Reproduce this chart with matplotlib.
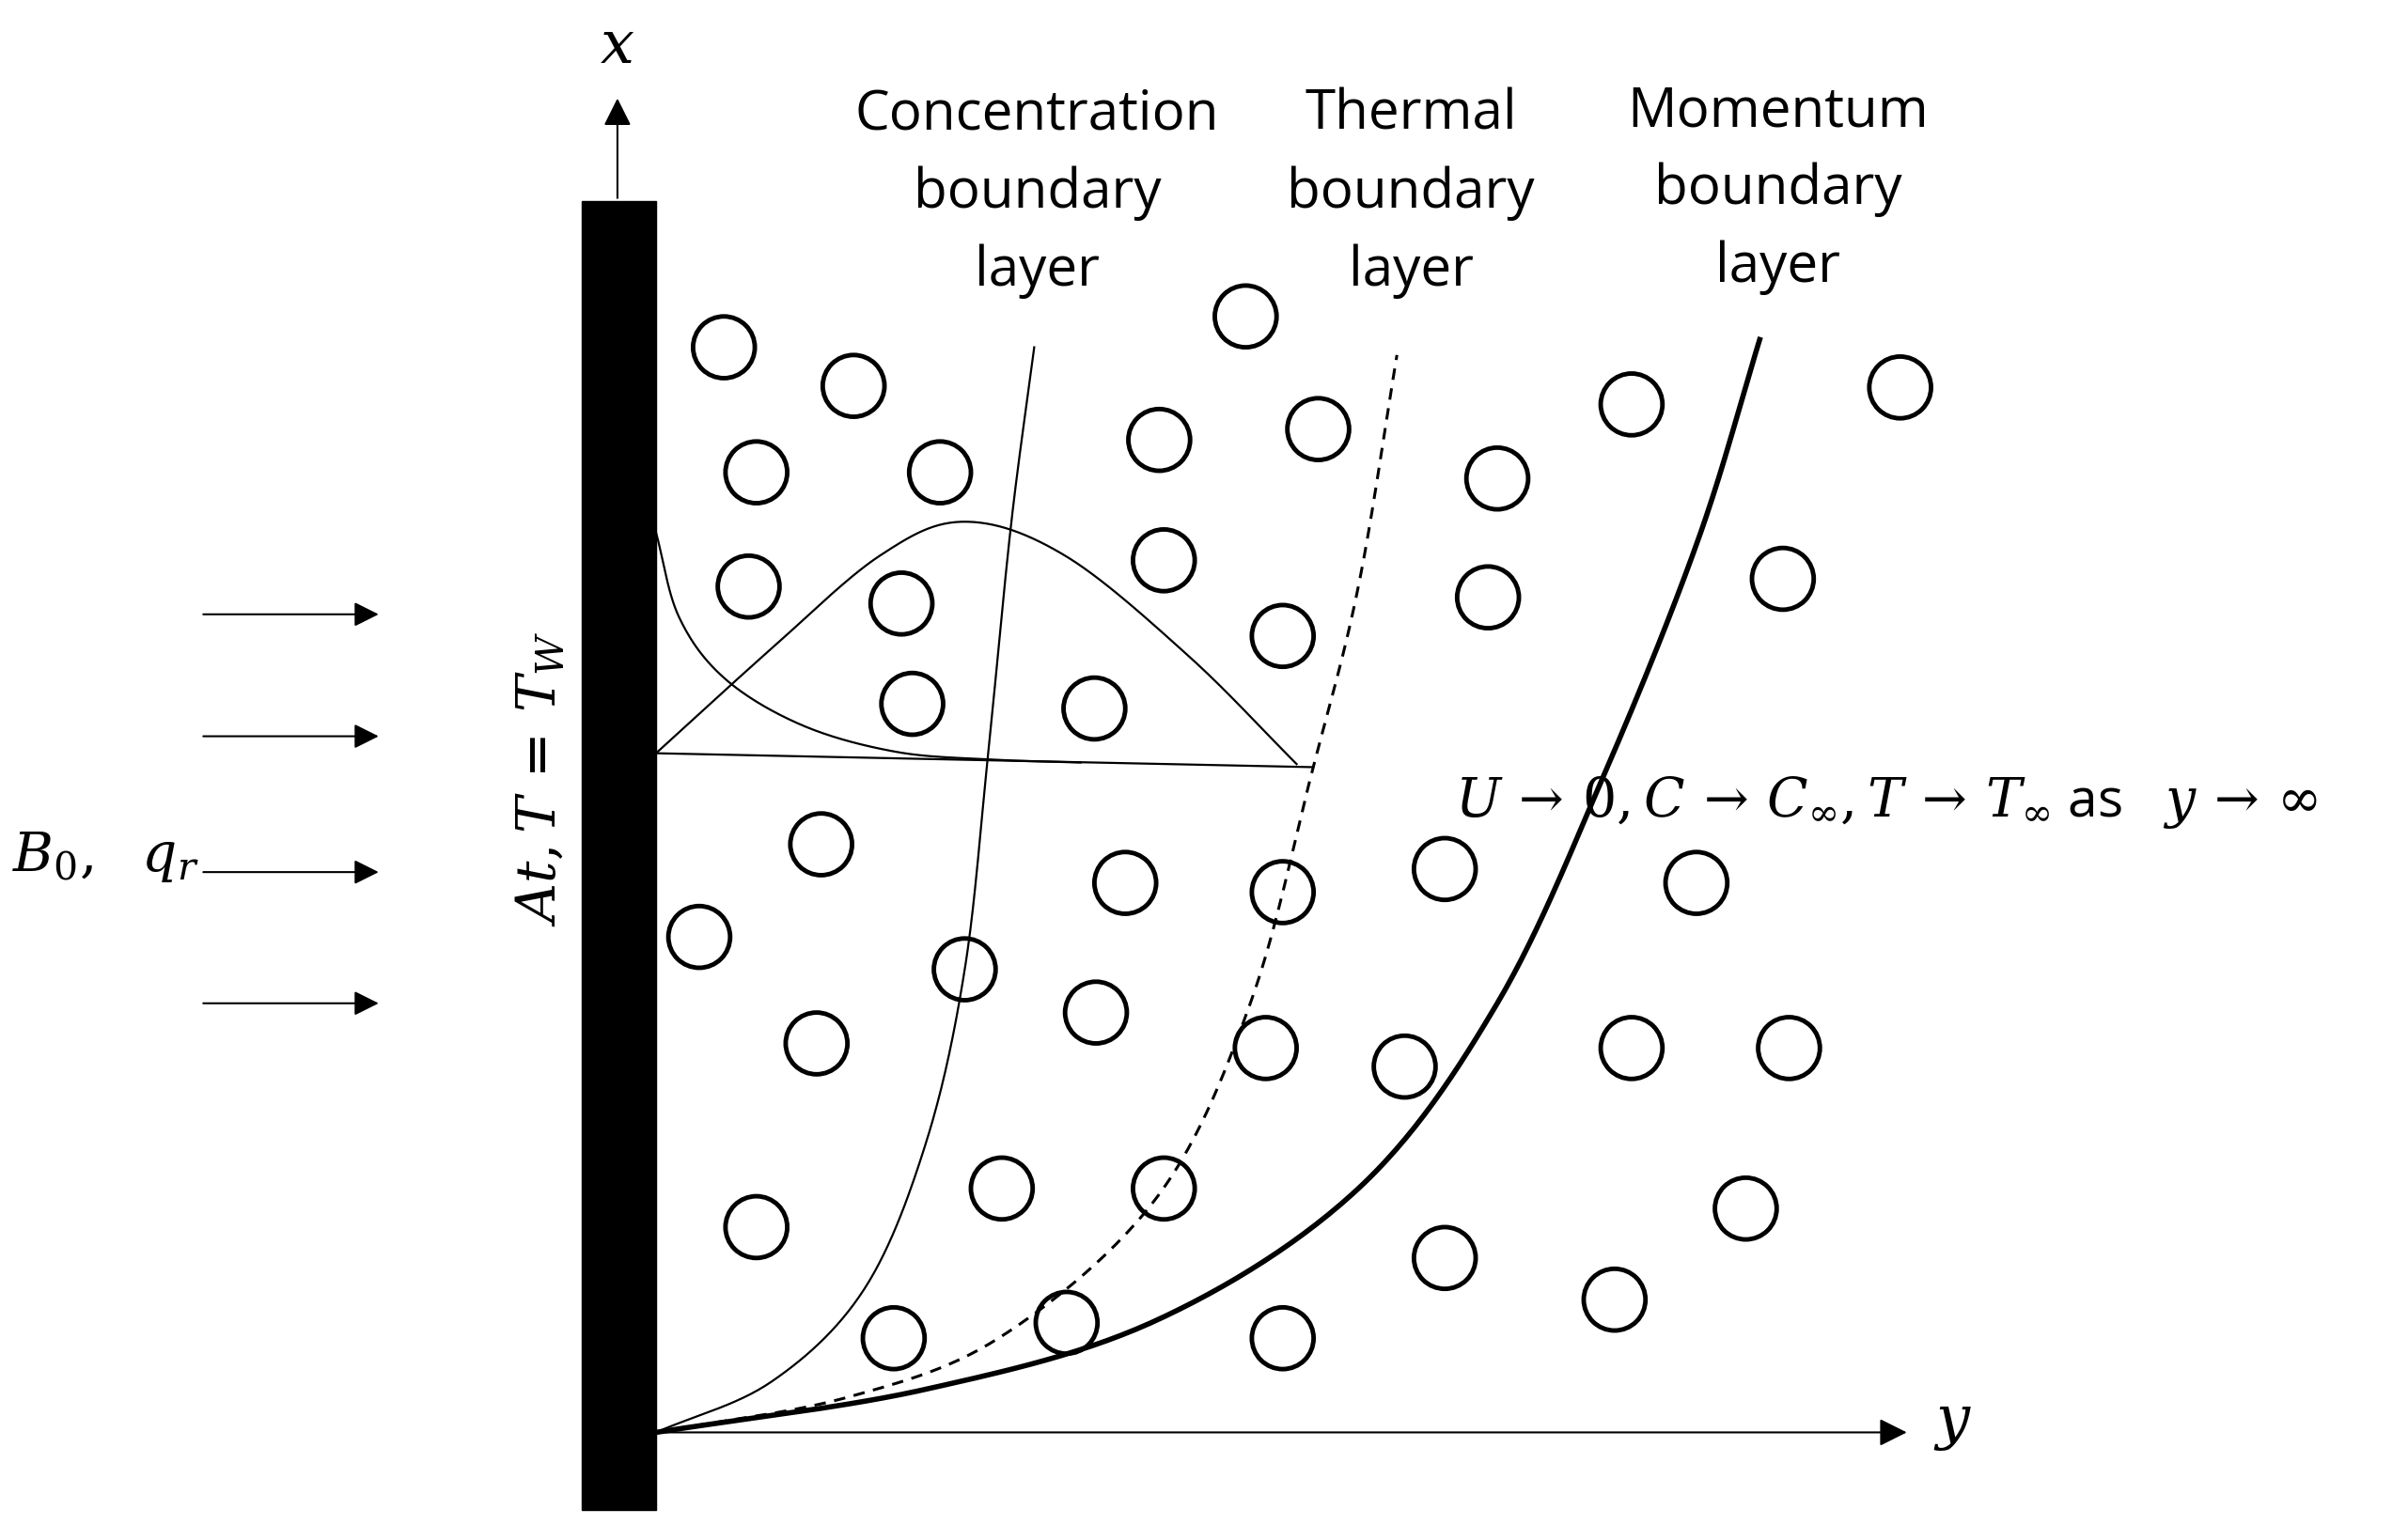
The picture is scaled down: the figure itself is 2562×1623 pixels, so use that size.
import matplotlib
matplotlib.use("Agg")
import matplotlib.pyplot as plt
from matplotlib.patches import Circle, Rectangle
import numpy as np
plt.rcParams['mathtext.fontset'] = 'dejavuserif'

W, H = 1560, 988
circle_x = [469,553,490,609,751,854,807,970,1057,1231,485,584,754,831,964,1155,591,709,532,729,831,936,1099,453,625,710,529,820,910,1057,1159,649,754,490,936,1131,1046,579,691,831]
circle_y = [225,250,306,306,285,278,205,310,262,251,380,391,363,412,387,375,456,459,547,572,578,563,572,607,628,656,676,679,691,679,679,770,770,795,815,783,842,867,857,867]
conc_x = [425,500,560,600,625,640,655,670]
conc_y = [928,895,835,740,628,490,340,225]
therm_x = [425,550,650,750,810,850,880,905]
therm_y = [928,905,865,775,650,500,380,230]
mom_x = [425,600,750,880,970,1040,1100,1140]
mom_y = [928,900,855,770,650,500,350,220]
bell_x = [425,500,570,625,690,770,840]
bell_y = [488,420,360,338,360,425,495]
decay_x = [425,440,470,520,580,640,700]
decay_y = [345,400,440,470,487,492,494]
arrow_y = [398,477,565,650]

def smooth(xs, ys, n=30):
    P = np.array(list(zip(xs, ys)), float)
    P = np.vstack([2*P[0]-P[1], P, 2*P[-1]-P[-2]])
    out = []
    for i in range(1, len(P)-2):
        p0, p1, p2, p3 = P[i-1], P[i], P[i+1], P[i+2]
        for t in np.linspace(0, 1, n, endpoint=False):
            out.append(0.5*((2*p1)+(-p0+p2)*t+(2*p0-5*p1+4*p2-p3)*t**2+(-p0+3*p1-3*p2+p3)*t**3))
    out.append(P[-2])
    out = np.array(out)
    return out[:, 0], out[:, 1]

fig = plt.figure(figsize=(25.62, 16.23), dpi=100)
ax = fig.add_axes([0, 0, 1, 1])
ax.set_xlim(0, W); ax.set_ylim(H, 0); ax.axis('off')

ax.add_patch(Rectangle((377, 130), 48, 848, color='black'))
ax.annotate('', xy=(400, 62), xytext=(400, 130), arrowprops=dict(arrowstyle='-|>', color='black', lw=1.5, mutation_scale=45))
ax.annotate('', xy=(1237, 928), xytext=(425, 928), arrowprops=dict(arrowstyle='-|>', color='black', lw=1.5, mutation_scale=45))
for y in arrow_y:
    ax.annotate('', xy=(247, y), xytext=(130, y), arrowprops=dict(arrowstyle='-|>', color='black', lw=1.5, mutation_scale=40))

for cx, cy in zip(circle_x, circle_y):
    ax.add_patch(Circle((cx, cy), 20, fill=False, lw=3.5, ec='black'))

x, y = smooth(conc_x, conc_y); ax.plot(x, y, 'k-', lw=1.6)
x, y = smooth(therm_x, therm_y); ax.plot(x, y, 'k--', lw=2.2, dashes=(4, 3))
x, y = smooth(mom_x, mom_y); ax.plot(x, y, 'k-', lw=4)
x, y = smooth(bell_x, bell_y); ax.plot(x, y, 'k-', lw=1.6)
x, y = smooth(decay_x, decay_y); ax.plot(x, y, 'k-', lw=1.6)
ax.plot([425, 850], [488, 497], 'k-', lw=1.6)

f = 'Open Sans'
ax.text(672, 125, 'Concentration\nboundary\nlayer', ha='center', va='center', fontsize=42, family=f, linespacing=1.55)
ax.text(914, 125, 'Thermal\nboundary\nlayer', ha='center', va='center', fontsize=42, family=f, linespacing=1.55)
ax.text(1152, 123, 'Momentum\nboundary\nlayer', ha='center', va='center', fontsize=42, family=f, linespacing=1.55)
ax.text(400, 30, '$x$', ha='center', va='center', fontsize=46)
ax.text(1265, 922, '$y$', ha='center', va='center', fontsize=46)
ax.text(8, 555, r'$B_0,\ \ q_r$', ha='left', va='center', fontsize=42)
ax.text(350, 505, r'$At, T\,=\,T_W$', ha='center', va='center', rotation=90, fontsize=42)
ax.text(1222, 520, r'$U\,\rightarrow\,0, C\,\rightarrow\,C_\infty, T\,\rightarrow\,T_\infty$ as   $y\,\rightarrow\,\infty$', ha='center', va='center', fontsize=41, family=f)
fig.savefig('out.png', dpi=100, facecolor='white')
